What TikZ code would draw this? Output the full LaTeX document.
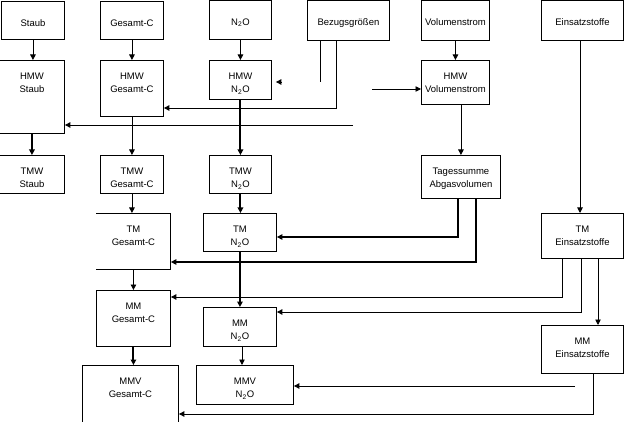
\documentclass[tikz,border=0pt]{standalone}
\usepackage{fontspec}
\setmainfont{Liberation Sans}
\usetikzlibrary{arrows.meta}
\newcommand\boxfont{\fontsize{9.5}{13.5}\selectfont}
\tikzset{
  box/.style 2 args={draw, line width=0.9pt, anchor=north west, inner sep=0pt,
                     text width=#1pt, align=center, text height=19pt,
                     text depth=#2pt, font=\boxfont},
  head/.style={text height=25pt},
  ln/.style={line width=0.9pt},
  arr/.style={-{Triangle[length=5.5pt,width=5.5pt]}, line width=0.9pt},
  thk/.style={line width=2pt},
}

\begin{document}
\begin{tikzpicture}[x=1pt, y=-1pt]
    \useasboundingbox (0,0) rectangle (624,422);
    % sources
    \node[box={63}{13},head] (stb) at (1,1) {Staub};
    \node[box={63}{13},head] (gc) at (100,1) {Gesamt-C};
    \node[box={62}{14},head] (no) at (209,0) {N\textsubscript{2}O};
    \node[box={82}{15},head] (bez) at (307,0) {Bezugsgrößen};
    \node[box={68}{15},head] (vol) at (421,0) {Volumenstrom};
    \node[box={82}{15},head] (ein) at (541,0) {Einsatzstoffe};
    % HMW
    \node[box={65}{54}] (hstb) at (-1,60) {HMW\\Staub};
    \node[box={63}{37}] (hgc) at (100,60) {HMW\\Gesamt-C};
    \node[box={62}{20}] (hno) at (209,60) {HMW\\N\textsubscript{2}O};
    \node[box={68}{25}] (hvol) at (421,60) {HMW\\Volumenstrom};
    % TMW
    \node[box={65}{19}] (tstb) at (-1,155) {TMW\\Staub};
    \node[box={63}{19}] (tgc) at (100,155) {TMW\\Gesamt-C};
    \node[box={62}{19}] (tno) at (209,155) {TMW\\N\textsubscript{2}O};
    \node[box={79}{24}] (tag) at (421,155) {Tagessumme\\Abgasvolumen};
    % TM
    \node[box={74}{37},draw=none] (tmgc) at (96,213) {TM\\Gesamt-C};
    \draw[line width=0.9pt] (tmgc.north west) -- (tmgc.north east)
      -- (tmgc.south east) -- (tmgc.south west);
    \node[box={73}{19}] (tmno) at (203,213) {TM\\N\textsubscript{2}O};
    \node[box={82}{26}] (tmein) at (541,213) {TM\\Einsatzstoffe};
    % MM
    \node[box={74}{37}] (mmgc) at (96,290) {MM\\Gesamt-C};
    \node[box={73}{20}] (mmno) at (203,307) {MM\\N\textsubscript{2}O};
    \node[box={82}{29}] (mmein) at (541,325) {MM\\Einsatzstoffe};
    % MMV
    \node[box={96}{38}] (mmvgc) at (82,365) {MMV\\Gesamt-C};
    \node[box={97}{20}] (mmvno) at (196,365) {MMV\\N\textsubscript{2}O};

    % columns
    \draw[arr] (stb.south) -- (stb.south |- hstb.north);
    \draw[arr,thk] (hstb.south) -- (hstb.south |- tstb.north);
    \draw[arr] (gc.south) -- (gc.south |- hgc.north);
    \draw[arr] (hgc.south) -- (hgc.south |- tgc.north);
    \draw[arr] (tgc.south) -- (tgc.south |- tmgc.north);
    \draw[arr] (tmgc.south) -- (tmgc.south |- mmgc.north);
    \draw[arr,thk] (mmgc.south) -- (mmgc.south |- mmvgc.north);
    \draw[arr] (no.south) -- (no.south |- hno.north);
    \draw[arr,thk] (hno.south) -- (hno.south |- tno.north);
    \draw[arr,thk] (tno.south) -- (tno.south |- tmno.north);
    \draw[arr,thk] (tmno.south) -- (tmno.south |- mmno.north);
    \coordinate (mnx) at (242,350);
    \draw[arr] (mmno.south -| mnx) -- (mnx |- mmvno.north);
    \draw[arr] (vol.south) -- (vol.south |- hvol.north);
    \draw[arr] (hvol.south -| tag.north) -- (tag.north);
    \coordinate (eix) at (580,100);
    \draw[arr] (ein.south -| eix) -- (eix |- tmein.north);
    \coordinate (tec) at (598,300);
    \draw[arr] (tmein.south -| tec) -- (tec |- mmein.north);

    % Bezugsgroessen
    \coordinate (bza) at (320,82);
    \draw[ln] (bez.south -| bza) -- (bza);
    \coordinate (hnoin) at (281,82);
    \draw[arr,shorten >=4pt] (hnoin) -- (hno.east |- hnoin);
    \coordinate (bzb) at (336,108);
    \draw[arr] (bez.south -| bzb) -- (bzb) -- (hgc.east |- bzb);
    \coordinate (fx) at (353,125);
    \draw[arr] (fx) -- (hstb.east |- fx);
    \coordinate (fv) at (372,89);
    \draw[arr] (fv) -- (hvol.west |- fv);

    % Tagessumme
    \coordinate (tga) at (458,237);
    \draw[arr,thk] (tag.south -| tga) -- (tga) -- (tmno.east |- tga);
    \coordinate (tgb) at (476,262);
    \draw[arr,thk] (tag.south -| tgb) -- (tgb) -- (tmgc.east |- tgb);

    % Einsatzstoffe
    \coordinate (tea) at (562,297);
    \draw[arr] (tmein.south -| tea) -- (tea) -- (mmgc.east |- tea);
    \coordinate (teb) at (581,312);
    \draw[arr] (tmein.south -| teb) -- (teb) -- (mmno.east |- teb);
    \coordinate (mea) at (593,414);
    \draw[arr] (mmein.south -| mea) -- (mea) -- (mmvgc.east |- mea);
    \coordinate (fm) at (575,386);
    \draw[arr] (fm) -- (mmvno.east |- fm);
\end{tikzpicture}
\end{document}
